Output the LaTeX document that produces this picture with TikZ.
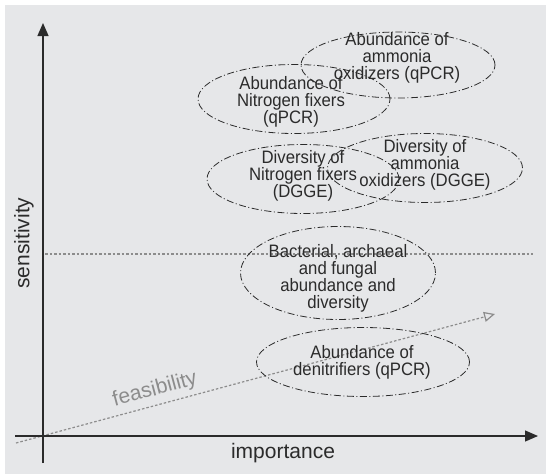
\documentclass[tikz,border=0pt]{standalone}
\usepackage{fontspec}
\setmainfont{Liberation Sans}
\newfontfamily\condfont[FakeStretch=0.93]{Liberation Sans}
\usetikzlibrary{arrows.meta,shapes.geometric}
\definecolor{bgc}{HTML}{E6E7E9}
\definecolor{ink}{HTML}{2B2B2B}
\definecolor{dotc}{HTML}{8C8C8C}
\tikzset{
  ell/.style={ellipse, draw=ink, line width=0.8pt, inner sep=0pt,
    dash pattern=on 7pt off 2.5pt on 1pt off 2.5pt},
  lab/.style={align=center, text=ink, inner sep=0pt,
    font=\condfont\fontsize{18}{17}\selectfont},
  axis/.style={draw=ink, line width=1.3pt},
  dotl/.style={draw=dotc, line width=1.2pt, dash pattern=on 2.5pt off 2pt},
  axlab/.style={text=ink, inner sep=0pt, font=\fontsize{21}{21}\selectfont}
}
\begin{document}
\begin{tikzpicture}[x=1pt,y=-1pt]
\useasboundingbox (0,0) rectangle (546,474);
\fill[white] (0,0) rectangle (546,474);
\fill[bgc] (5,5) rectangle (546,474);
% reference coordinates
\coordinate (yb) at (43,463);
\coordinate (yt) at (43,23);
\coordinate (xl) at (15,436);
\coordinate (xr) at (538,436);
\coordinate (hl) at (45,254);
\coordinate (hr) at (533,254);
\coordinate (fs) at (16,443);
\coordinate (fe) at (495,314);
% dotted lines
\draw[dotl] (hl) -- (hr);
\draw[dotl, -{Triangle[open,length=11pt,width=10pt,line width=1.2pt]}] (fs) -- (fe);
% axes
\draw[axis, -{Triangle[length=13pt,width=11pt]}] (yb) -- (yt);
\draw[axis, -{Triangle[length=13pt,width=11pt]}] (xl) -- (xr);
% ellipses
\node[ell, minimum width=194pt, minimum height=66pt] (e1) at (398,65) {};
\node[ell, minimum width=192pt, minimum height=69pt] (e2) at (294,99) {};
\node[ell, minimum width=192pt, minimum height=69pt] (e3) at (303,179) {};
\node[ell, minimum width=195pt, minimum height=69pt] (e4) at (425,168) {};
\node[ell, minimum width=195pt, minimum height=93pt] (e5) at (338,273) {};
\node[ell, minimum width=213pt, minimum height=69pt] (e6) at (363,362) {};
% texts
\node[lab] (t1) at (397,58) {Abundance of\\ammonia\\oxidizers (qPCR)};
\node[lab] (t2) at (291,102) {Abundance of\\Nitrogen fixers\\(qPCR)};
\node[lab] (t3) at (303,176) {Diversity of\\Nitrogen fixers\\(DGGE)};
\node[lab] (t4) at (425,165) {Diversity of\\ammonia\\oxidizers (DGGE)};
\node[lab] (t5) at (338,278) {Bacterial, archaeal\\and fungal\\abundance and\\diversity};
\node[lab] (t6) at (362,362.5) {Abundance of\\denitrifiers (qPCR)};
% axis labels
\node[axlab] (imp) at (283,453.5) {importance};
\node[axlab, rotate=90] (sen) at (24,243) {sensitivity};
\node[axlab, text=dotc, rotate=15] (fea) at (155,390) {feasibility};
\end{tikzpicture}
\end{document}
